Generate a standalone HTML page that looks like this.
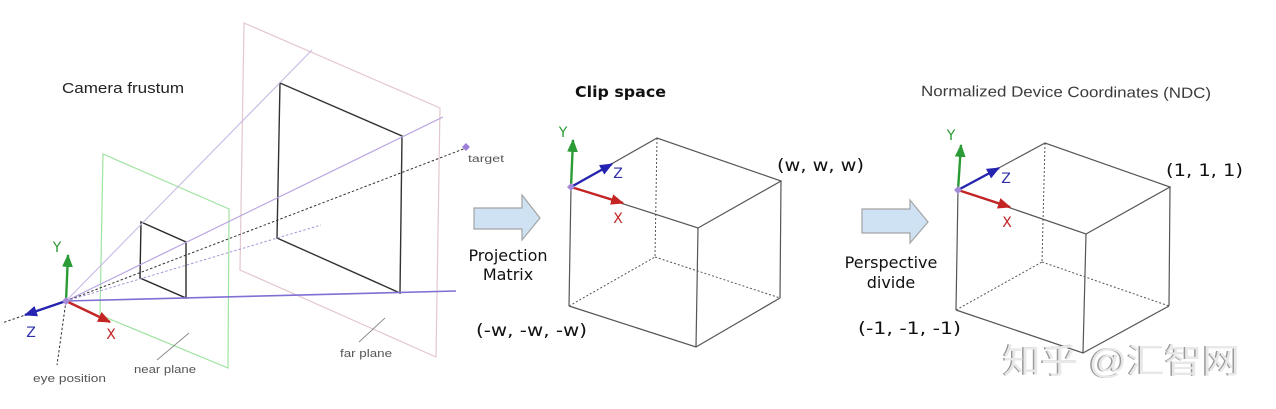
<!DOCTYPE html>
<html><head><meta charset="utf-8"><style>
html,body{margin:0;padding:0;background:#fff;width:1276px;height:409px;overflow:hidden}
svg{display:block}
</style></head><body>
<svg width="1276" height="409" viewBox="0 0 1276 409" xmlns="http://www.w3.org/2000/svg">
<defs>
<marker id="mg" viewBox="0 0 12 10" refX="11" refY="5" markerWidth="13" markerHeight="11" markerUnits="userSpaceOnUse" orient="auto"><path d="M0,0 L12,5 L0,10 z" fill="#2b9b35"/></marker>
<marker id="mb" viewBox="0 0 12 10" refX="11" refY="5" markerWidth="13" markerHeight="11" markerUnits="userSpaceOnUse" orient="auto"><path d="M0,0 L12,5 L0,10 z" fill="#2424b0"/></marker>
<marker id="mr" viewBox="0 0 12 10" refX="11" refY="5" markerWidth="13" markerHeight="11" markerUnits="userSpaceOnUse" orient="auto"><path d="M0,0 L12,5 L0,10 z" fill="#c42424"/></marker>
</defs>

<!-- ===== Camera frustum ===== -->
<polygon points="244,23 440,108 436,357 240,270" fill="none" stroke="#e3c8cc" stroke-width="1.2"/>
<polygon points="103,154 229,209 228,368 100,315" fill="none" stroke="#9fe3a0" stroke-width="1.2"/>
<polygon points="280,83 402,136 400,293 277,238" fill="none" stroke="#333" stroke-width="1.4"/>
<polygon points="141,222 186,242 186,298 140,278" fill="none" stroke="#2a2a2a" stroke-width="1.4"/>
<line x1="66" y1="301" x2="312" y2="50" stroke="#c8b8e6" stroke-width="1.1"/>
<line x1="66" y1="301" x2="443" y2="117" stroke="#b9a4e2" stroke-width="1.2"/>
<line x1="66" y1="301" x2="456" y2="291" stroke="#8070d4" stroke-width="1.6"/>
<line x1="66" y1="301" x2="466" y2="148" stroke="#333" stroke-width="1" stroke-dasharray="2.5,2"/>
<line x1="66" y1="301" x2="321" y2="225" stroke="#a995d8" stroke-width="1" stroke-dasharray="2.5,2"/>
<line x1="66" y1="301" x2="2" y2="323" stroke="#333" stroke-width="1" stroke-dasharray="2.5,2"/>
<line x1="66" y1="301" x2="57" y2="365" stroke="#333" stroke-width="1" stroke-dasharray="2.5,2"/>
<line x1="157" y1="360" x2="189" y2="333" stroke="#888" stroke-width="0.9"/>
<line x1="359" y1="342" x2="385" y2="318" stroke="#888" stroke-width="0.9"/>
<polygon points="466,143 470,147 466,151 462,147" fill="#9b7fd8"/>
<line x1="66" y1="301" x2="68" y2="255" stroke="#2b9b35" stroke-width="2.4" marker-end="url(#mg)"/>
<line x1="66" y1="301" x2="25" y2="315" stroke="#2424b0" stroke-width="2.4" marker-end="url(#mb)"/>
<line x1="66" y1="301" x2="110" y2="322" stroke="#c42424" stroke-width="2.4" marker-end="url(#mr)"/>
<polygon points="66,297 70,301 66,305 62,301" fill="#a58ad8"/>
<g font-family="'DejaVu Sans', sans-serif" font-size="14">
<text x="57" y="252" text-anchor="middle" fill="#2b9b35">Y</text>
<text x="31" y="337" text-anchor="middle" fill="#3030a8">Z</text>
<text x="111" y="339" text-anchor="middle" fill="#c42424">X</text>
</g>
<g font-family="'Liberation Sans', sans-serif" fill="#555">
<text x="62" y="93" font-size="15" fill="#222" textLength="122" lengthAdjust="spacingAndGlyphs">Camera frustum</text>
<text x="33" y="382" font-size="11" textLength="73" lengthAdjust="spacingAndGlyphs">eye position</text>
<text x="134" y="373" font-size="11" textLength="62" lengthAdjust="spacingAndGlyphs">near plane</text>
<text x="340" y="357" font-size="11" textLength="52" lengthAdjust="spacingAndGlyphs">far plane</text>
<text x="468" y="162" font-size="10" textLength="36" lengthAdjust="spacingAndGlyphs">target</text>
</g>

<!-- ===== Clip space ===== -->
<polygon points="474,208 522,208 522,195 540,218 522,240 522,229 474,229" fill="#cfe2f3" stroke="#a3a3a3" stroke-width="1.2"/>
<g font-family="'DejaVu Sans', sans-serif" fill="#111">
<text x="508" y="261" font-size="16" text-anchor="middle">Projection</text>
<text x="508" y="280" font-size="16" text-anchor="middle">Matrix</text>
<text x="575" y="97" font-size="15" font-weight="bold" textLength="91" lengthAdjust="spacingAndGlyphs">Clip space</text>
<text x="777" y="171" font-size="17" textLength="87" lengthAdjust="spacingAndGlyphs">(w, w, w)</text>
<text x="476" y="336" font-size="17" textLength="111" lengthAdjust="spacingAndGlyphs">(-w, -w, -w)</text>
</g>
<g stroke="#555" stroke-width="1.2" fill="none">
<polyline points="571,187 657,138 781,181 698,228 571,187"/>
<line x1="571" y1="187" x2="569" y2="306"/>
<line x1="781" y1="181" x2="780" y2="298"/>
<line x1="698" y1="228" x2="696" y2="347"/>
<polyline points="569,306 696,347 780,298"/>
</g>
<g stroke="#555" stroke-width="1" fill="none" stroke-dasharray="2,2">
<line x1="657" y1="138" x2="655" y2="257"/>
<line x1="569" y1="306" x2="655" y2="257"/>
<line x1="655" y1="257" x2="780" y2="298"/>
</g>
<line x1="571" y1="187" x2="573" y2="140" stroke="#2b9b35" stroke-width="2.4" marker-end="url(#mg)"/>
<line x1="571" y1="187" x2="612" y2="164" stroke="#2424b0" stroke-width="2.4" marker-end="url(#mb)"/>
<line x1="571" y1="187" x2="623" y2="203" stroke="#c42424" stroke-width="2.4" marker-end="url(#mr)"/>
<polygon points="571,183 575,187 571,191 567,187" fill="#a58ad8"/>
<g font-family="'DejaVu Sans', sans-serif" font-size="14">
<text x="563" y="137" text-anchor="middle" fill="#2b9b35">Y</text>
<text x="618" y="178" text-anchor="middle" fill="#3030a8">Z</text>
<text x="618" y="223" text-anchor="middle" fill="#c42424">X</text>
</g>

<!-- ===== NDC ===== -->
<polygon points="862,209 910,209 910,200 928,222 910,243 910,233 862,233" fill="#cfe2f3" stroke="#a3a3a3" stroke-width="1.2"/>
<g font-family="'DejaVu Sans', sans-serif" fill="#111">
<text x="891" y="268" font-size="16" text-anchor="middle">Perspective</text>
<text x="891" y="288" font-size="16" text-anchor="middle">divide</text>
<text x="1166" y="176" font-size="17" textLength="77" lengthAdjust="spacingAndGlyphs">(1, 1, 1)</text>
<text x="858" y="334" font-size="17" textLength="103" lengthAdjust="spacingAndGlyphs">(-1, -1, -1)</text>
</g>
<text x="921" y="96" font-family="'Liberation Sans', sans-serif" font-size="15" fill="#3a3a3a" textLength="290" lengthAdjust="spacingAndGlyphs" transform="rotate(0.4 921 96)">Normalized Device Coordinates (NDC)</text>
<g stroke="#555" stroke-width="1.2" fill="none">
<polyline points="958,190 1045,143 1170,187 1086,234 958,190"/>
<line x1="958" y1="190" x2="956" y2="310"/>
<line x1="1170" y1="187" x2="1169" y2="306"/>
<line x1="1086" y1="234" x2="1083" y2="353"/>
<polyline points="956,310 1083,353 1169,306"/>
</g>
<g stroke="#555" stroke-width="1" fill="none" stroke-dasharray="2,2">
<line x1="1045" y1="143" x2="1042" y2="262"/>
<line x1="956" y1="310" x2="1042" y2="262"/>
<line x1="1042" y1="262" x2="1169" y2="306"/>
</g>
<line x1="958" y1="190" x2="961" y2="145" stroke="#2b9b35" stroke-width="2.4" marker-end="url(#mg)"/>
<line x1="958" y1="190" x2="999" y2="168" stroke="#2424b0" stroke-width="2.4" marker-end="url(#mb)"/>
<line x1="958" y1="190" x2="1010" y2="207" stroke="#c42424" stroke-width="2.4" marker-end="url(#mr)"/>
<polygon points="958,186 962,190 958,194 954,190" fill="#a58ad8"/>
<g font-family="'DejaVu Sans', sans-serif" font-size="14">
<text x="951" y="140" text-anchor="middle" fill="#2b9b35">Y</text>
<text x="1006" y="183" text-anchor="middle" fill="#3030a8">Z</text>
<text x="1007" y="227" text-anchor="middle" fill="#c42424">X</text>
</g>

<!-- watermark -->
<g font-family="'Liberation Sans', 'Noto Sans CJK SC', sans-serif" font-size="34">
<text x="1001.5" y="373" fill="#9a9a9a" textLength="237" lengthAdjust="spacingAndGlyphs">知乎 @汇智网</text>
<text x="1003" y="373" fill="#e8e8e8" textLength="237" lengthAdjust="spacingAndGlyphs">知乎 @汇智网</text>
</g>
</svg>
</body></html>
